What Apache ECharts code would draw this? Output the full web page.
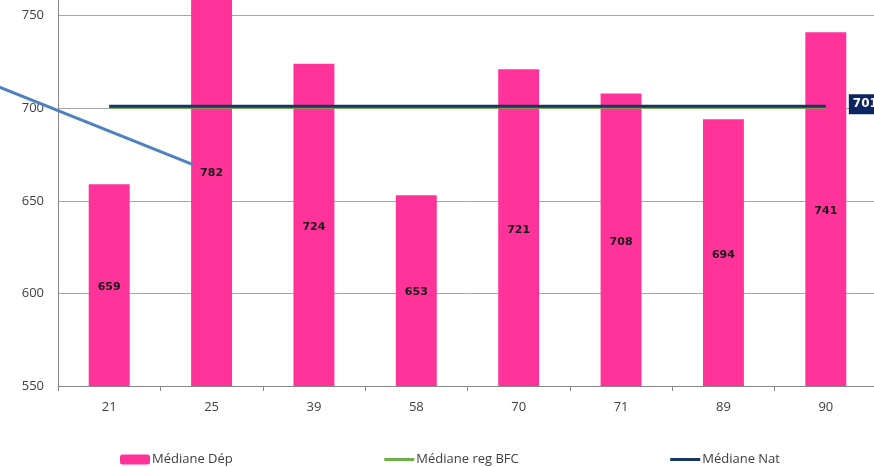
<!DOCTYPE html>
<html>
<head>
<meta charset="utf-8">
<script src="https://cdn.jsdelivr.net/npm/echarts@6/dist/echarts.min.js"></script>
<style>
  html, body { margin: 0; padding: 0; background: #fff; overflow: hidden; width: 874px; height: 467px; }
  /* le haut du graphique est coupé dans l'original : on décale le conteneur */
  #chart { position: absolute; left: 0; top: -77px; width: 877px; height: 544px; }
</style>
</head>
<body>
<div id="chart"></div>
<script>
// departements
var categories = ["21", "25", "39", "58", "70", "71", "89", "90"];
var medianeDep = [659, 782, 724, 653, 721, 708, 694, 741];
var medianeBFC = [700.5, 700.5, 700.5, 700.5, 700.5, 700.5, 700.5, 700.5];
var medianeNat = [701, 701, 701, 701, 701, 701, 701, 701];
// trait de rappel (etiquette 782 deplacee), en unites de categorie / valeur
var leaderX = [-0.6, 1.32];
var leaderY = [712, 669.5];

var chart = echarts.init(document.getElementById("chart"));

var leaderData = leaderX.map(function (x, i) { return [x, leaderY[i]]; });
var axisFont = { fontFamily: "Open Sans", fontSize: 13, color: "#404040" };

var option = {
  animation: false,
  grid: [
    { left: 58, right: 0, top: 0, bottom: 81, outerBoundsMode: "none" },
    { left: 0, right: 0, top: 0, bottom: 81, outerBoundsMode: "none" }
  ],
  legend: {
    data: [
      { name: "Médiane Dép" },
      { name: "Médiane reg BFC", itemStyle: { opacity: 0 } },
      { name: "Médiane Nat", itemStyle: { opacity: 0 } }
    ],
    left: 115,
    top: 525,
    itemGap: 150,
    itemWidth: 30,
    itemHeight: 10,
    lineStyle: { width: 3 },
    textStyle: { fontFamily: "Open Sans", fontSize: 13, color: "#404040", padding: [0, 0, 0, -3] }
  },
  xAxis: [
    {
      type: "category",
      data: categories,
      axisLine: { lineStyle: { color: "#868686", width: 1 } },
      axisTick: { show: true, length: 5, lineStyle: { color: "#868686" } },
      axisLabel: Object.assign({ margin: 15 }, axisFont)
    },
    {
      type: "value",
      gridIndex: 1,
      min: -0.566,
      max: 8,
      show: false
    }
  ],
  yAxis: [
    {
      type: "value",
      min: 550,
      max: 800,
      interval: 50,
      axisLine: { show: true, lineStyle: { color: "#868686" } },
      axisTick: { show: false },
      axisLabel: Object.assign({ margin: 14 }, axisFont),
      splitLine: { lineStyle: { color: "#a6a6a6", width: 1 } }
    },
    {
      type: "value",
      gridIndex: 1,
      min: 550,
      max: 800,
      show: false
    }
  ],
  series: [
    {
      name: "Médiane Dép",
      type: "bar",
      data: medianeDep,
      barWidth: "40%",
      itemStyle: { color: "#ff3399" },
      label: {
        show: true,
        position: "inside",
        offset: [0, 2],
        fontFamily: "DejaVu Sans",
        fontWeight: "bold",
        fontSize: 11,
        color: "#1a1a1a"
      }
    },
    {
      name: "Médiane reg BFC",
      type: "line",
      data: medianeBFC,
      symbol: "none",
      lineStyle: { color: "#70ad47", width: 3 },
      itemStyle: { color: "#70ad47" }
    },
    {
      name: "Médiane Nat",
      type: "line",
      data: medianeNat,
      symbol: "none",
      lineStyle: { color: "#17375e", width: 3 },
      itemStyle: { color: "#17375e" },
      endLabel: {
        show: true,
        distance: 23,
        offset: [0, -2],
        fontFamily: "DejaVu Sans",
        fontWeight: "bold",
        fontSize: 12,
        color: "#ffffff",
        backgroundColor: "#0d2560",
        padding: [4, 4, 4, 4]
      }
    },
    {
      name: "rappel",
      type: "line",
      xAxisIndex: 1,
      yAxisIndex: 1,
      data: leaderData,
      symbol: "none",
      clip: false,
      silent: true,
      lineStyle: { color: "#4f81bd", width: 3 },
      z: 5
    }
  ]
};

chart.setOption(option);
</script>
</body>
</html>
